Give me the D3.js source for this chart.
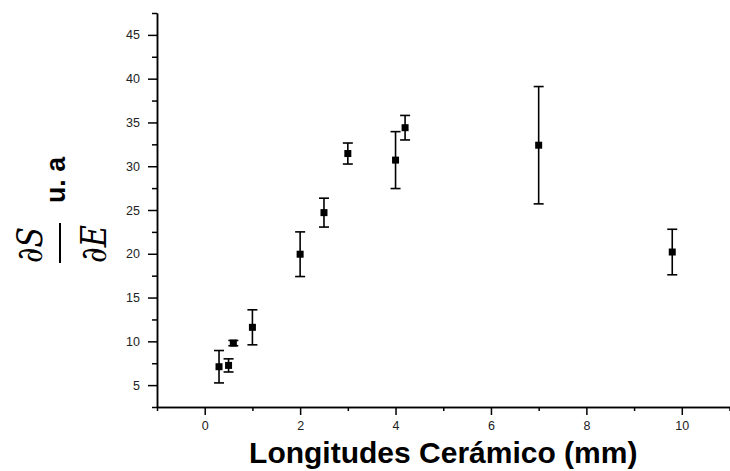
<!DOCTYPE html>
<meta charset="utf-8">
<style>
body { margin: 0; background: #fff; }
svg { display: block; }
.axis path, .axis line { stroke: #000; stroke-width: 1.5px; }
.axis text { font-family: "Liberation Sans", Arial, sans-serif; font-size: 12.5px; fill: #222; }
</style>
<body>
<script src="https://d3js.org/d3.v7.min.js"></script>
<script>

// data
var longitud = [0.3, 0.5, 0.6, 1, 2, 2.5, 3, 4, 4.2, 7, 9.8];
var dsde     = [7.1, 7.25, 9.8, 11.6, 19.95, 24.7, 31.45, 30.7, 34.4, 32.4, 20.2];
var errores  = [1.85, 0.75, 0.3, 2.0, 2.55, 1.65, 1.2, 3.25, 1.4, 6.7, 2.6];

var xMajor = [0, 2, 4, 6, 8, 10],
    xMinor = [-1, 1, 3, 5, 7, 9, 11],
    yMajor = [5, 10, 15, 20, 25, 30, 35, 40, 45],
    yMinor = [2.5, 7.5, 12.5, 17.5, 22.5, 27.5, 32.5, 37.5, 42.5, 47.5];

var width = 730, height = 471;

var x = d3.scaleLinear().domain([-1, 11]).range([157, 729.5]);
var y = d3.scaleLinear().domain([2.5, 47.5]).range([407, 13]);

var svg = d3.select("body").append("svg")
    .attr("width", width)
    .attr("height", height);

// x axis
svg.append("g")
    .attr("class", "axis")
    .attr("transform", "translate(0," + y(2.5) + ")")
    .call(d3.axisBottom(x).tickValues(xMinor).tickSize(4).tickSizeOuter(0).tickFormat(""));
svg.append("g")
    .attr("class", "axis")
    .attr("transform", "translate(0," + y(2.5) + ")")
    .call(d3.axisBottom(x).tickValues(xMajor).tickSize(8).tickSizeOuter(0).tickPadding(6));

// y axis
svg.append("g")
    .attr("class", "axis")
    .attr("transform", "translate(" + x(-1) + ",0)")
    .call(d3.axisLeft(y).tickValues(yMinor).tickSize(5).tickSizeOuter(0).tickFormat(""));
svg.append("g")
    .attr("class", "axis")
    .attr("transform", "translate(" + x(-1) + ",0)")
    .call(d3.axisLeft(y).tickValues(yMajor).tickSize(9).tickSizeOuter(0).tickPadding(8));

// error bars
var pts = longitud.map(function(d, i) { return {x: d, y: dsde[i], e: errores[i]}; });

var eb = svg.append("g").attr("stroke", "#000").attr("stroke-width", 1.6);
eb.selectAll(".v").data(pts).enter().append("line")
    .attr("x1", function(d) { return x(d.x); })
    .attr("x2", function(d) { return x(d.x); })
    .attr("y1", function(d) { return y(d.y - d.e); })
    .attr("y2", function(d) { return y(d.y + d.e); });
eb.selectAll(".top").data(pts).enter().append("line")
    .attr("x1", function(d) { return x(d.x) - 5; })
    .attr("x2", function(d) { return x(d.x) + 5; })
    .attr("y1", function(d) { return y(d.y + d.e); })
    .attr("y2", function(d) { return y(d.y + d.e); });
eb.selectAll(".bot").data(pts).enter().append("line")
    .attr("x1", function(d) { return x(d.x) - 5; })
    .attr("x2", function(d) { return x(d.x) + 5; })
    .attr("y1", function(d) { return y(d.y - d.e); })
    .attr("y2", function(d) { return y(d.y - d.e); });

// markers
svg.append("g").selectAll("rect").data(pts).enter().append("rect")
    .attr("x", function(d) { return x(d.x) - 3.5; })
    .attr("y", function(d) { return y(d.y) - 3.5; })
    .attr("width", 7)
    .attr("height", 7)
    .attr("fill", "#000");

// x title
svg.append("text")
    .attr("x", (x(-1) + x(11)) / 2)
    .attr("y", 463)
    .attr("text-anchor", "middle")
    .style("font-family", "Liberation Sans, Arial, sans-serif")
    .style("font-weight", "bold")
    .style("font-size", "30px")
    .attr("fill", "#000")
    .text("Longitudes Cerámico (mm)");

// y title: dS/dE  u. a
var yl = svg.append("g").attr("transform", "translate(60,243) rotate(-90)");
yl.append("line")
    .attr("x1", -20).attr("x2", 20)
    .attr("y1", 0).attr("y2", 0)
    .attr("stroke", "#000").attr("stroke-width", 2);
yl.append("text")
    .attr("x", -2).attr("y", -18)
    .attr("text-anchor", "middle")
    .attr("textLength", 36).attr("lengthAdjust", "spacingAndGlyphs")
    .style("font-family", "DejaVu Serif, serif")
    .style("font-style", "italic")
    .style("font-size", "36px")
    .text("∂S");
yl.append("text")
    .attr("x", -1).attr("y", 46)
    .attr("text-anchor", "middle")
    .attr("textLength", 38).attr("lengthAdjust", "spacingAndGlyphs")
    .style("font-family", "DejaVu Serif, serif")
    .style("font-style", "italic")
    .style("font-size", "36px")
    .text("∂E");
yl.append("text")
    .attr("x", 40).attr("y", 5)
    .attr("textLength", 46).attr("lengthAdjust", "spacingAndGlyphs")
    .style("font-family", "Liberation Sans, Arial, sans-serif")
    .style("font-weight", "bold")
    .style("font-size", "27px")
    .text("u. a");

</script>
